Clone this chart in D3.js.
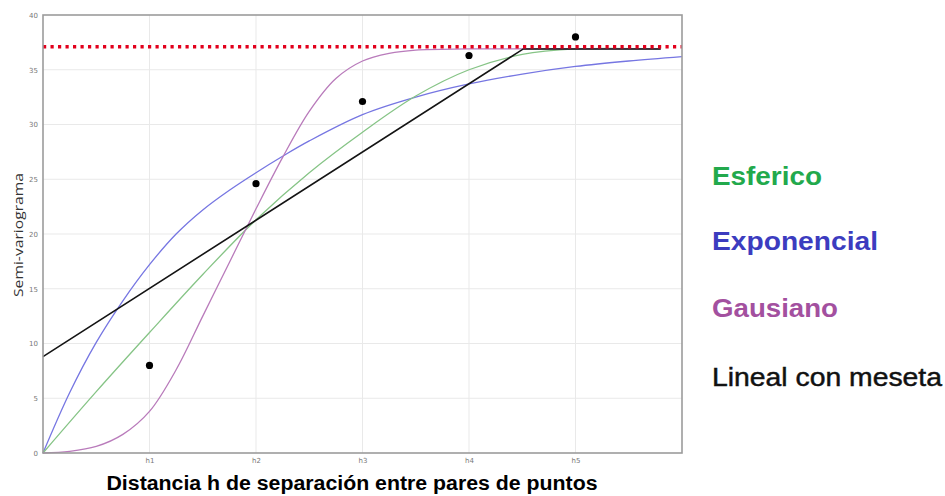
<!DOCTYPE html>
<html>
<head>
<meta charset="utf-8">
<script src="https://cdn.jsdelivr.net/npm/d3@7"></script>
<style>
  html, body { margin: 0; padding: 0; background: #fff; }
  svg { display: block; }
</style>
</head>
<body>
<svg id="chart" width="945" height="496"></svg>
<script>
// Experimental semivariogram points (lag classes h1..h5)
const lagTicks = [1, 2, 3, 4, 5];
const lagLabels = ["h1", "h2", "h3", "h4", "h5"];
const observed = [8.0, 24.6, 32.1, 36.3, 38.0];

// Sill of the fitted models
const sill = [37.1, 37.1];
const sillRange = [0, 6];

// Spherical model
const sphH = [0, 0.5, 1, 1.5, 2, 2.5, 3, 3.5, 4, 4.5, 5, 5.8];
const sphG = [0, 5.6, 11.0, 16.3, 21.3, 25.6, 29.3, 32.6, 35.0, 36.4, 36.9, 36.9];

// Exponential model
const expH = [0, 0.25, 0.5, 0.75, 1, 1.25, 1.5, 1.75, 2, 2.25, 2.5, 3, 3.5, 4, 4.5, 5, 5.5, 6];
const expG = [0, 5.5, 10.1, 13.9, 17.2, 20.0, 22.2, 24.0, 25.6, 27.1, 28.5, 30.9, 32.5, 33.7, 34.6, 35.3, 35.8, 36.2];

// Gaussian model
const gauH = [0, 0.25, 0.5, 0.75, 1, 1.25, 1.5, 1.75, 2, 2.25, 2.5, 2.75, 3, 3.25, 3.5, 4, 5.8];
const gauG = [0, 0.15, 0.6, 1.7, 3.8, 7.6, 12.5, 17.4, 22.3, 27.0, 31.2, 34.2, 35.8, 36.5, 36.8, 36.9, 36.9];

// Linear model with sill
const linH = [0, 4.51, 5.8];
const linG = [8.8, 36.9, 36.9];

const yTicks = [0, 5, 10, 15, 20, 25, 30, 35, 40];

const legendNames = ["Esferico", "Exponencial", "Gausiano", "Lineal con meseta"];
const legendColors = ["#22a94c", "#3c3cbf", "#a3509f", "#111111"];

const svg = d3.select("#chart");
const plot = { left: 43, right: 682, top: 15, bottom: 453 };

const x = d3.scaleLinear().domain([0, 6]).range([plot.left, plot.right]);
const y = d3.scaleLinear().domain([0, 40]).range([plot.bottom, plot.top]);

// Grid
const grid = svg.append("g");
grid.selectAll("line.hy").data(yTicks.slice(1, -1)).join("line")
  .attr("x1", plot.left).attr("x2", plot.right)
  .attr("y1", d => y(d)).attr("y2", d => y(d))
  .attr("stroke", "#e9e9e9").attr("stroke-width", 1);
grid.selectAll("line.vx").data(lagTicks).join("line")
  .attr("y1", plot.top).attr("y2", plot.bottom)
  .attr("x1", d => x(d)).attr("x2", d => x(d))
  .attr("stroke", "#e9e9e9").attr("stroke-width", 1);

// Axes (labels only; frame drawn separately)
const yAxis = d3.axisLeft(y).tickValues(yTicks).tickSize(0).tickPadding(5);
svg.append("g").attr("transform", `translate(${plot.left},0)`).call(yAxis)
  .call(g => g.select(".domain").remove())
  .call(g => g.selectAll("text").attr("fill", "#777").style("font-size", "7px")
    .style("font-family", "DejaVu Sans, sans-serif"));

const xAxis = d3.axisBottom(x).tickValues(lagTicks)
  .tickFormat((d, i) => lagLabels[i]).tickSize(0).tickPadding(5);
svg.append("g").attr("transform", `translate(0,${plot.bottom})`).call(xAxis)
  .call(g => g.select(".domain").remove())
  .call(g => g.selectAll("text").attr("fill", "#777").style("font-size", "7px")
    .style("font-family", "DejaVu Sans, sans-serif"));

// Model curves
const line = d3.line().x(d => x(d[0])).y(d => y(d[1]));
const zipPts = (hs, gs) => hs.map((h, i) => [h, gs[i]]);
const smooth = d3.curveCatmullRom.alpha(0.5);

const curves = [
  { pts: zipPts(expH, expG), color: "#7676e2", w: 1.3, curve: smooth },
  { pts: zipPts(sphH, sphG), color: "#86c486", w: 1.3, curve: smooth },
  { pts: zipPts(gauH, gauG), color: "#b97bbb", w: 1.3, curve: smooth },
  { pts: zipPts(linH, linG), color: "#141414", w: 1.6, curve: d3.curveLinear }
];
svg.append("g").selectAll("path").data(curves).join("path")
  .attr("d", c => line.curve(c.curve)(c.pts))
  .attr("fill", "none")
  .attr("stroke", c => c.color)
  .attr("stroke-width", c => c.w);

// Sill line
svg.append("line")
  .attr("x1", x(sillRange[0])).attr("x2", x(sillRange[1]))
  .attr("y1", y(sill[0])).attr("y2", y(sill[1]))
  .attr("stroke", "#e2001c").attr("stroke-width", 3.4)
  .attr("stroke-dasharray", "3.2,4.3");

// Observed points
svg.append("g").selectAll("circle").data(observed).join("circle")
  .attr("cx", (d, i) => x(lagTicks[i]))
  .attr("cy", d => y(d))
  .attr("r", 3.6)
  .attr("fill", "#000");

// Frame
svg.append("rect")
  .attr("x", plot.left).attr("y", plot.top)
  .attr("width", plot.right - plot.left).attr("height", plot.bottom - plot.top)
  .attr("fill", "none").attr("stroke", "#9c9c9c").attr("stroke-width", 1.6);

// Axis titles
svg.append("text")
  .attr("transform", "translate(23,235) rotate(-90)")
  .attr("text-anchor", "middle")
  .attr("fill", "#333")
  .style("font-family", "Open Sans, sans-serif")
  .style("font-size", "13.5px")
  .attr("textLength", 124).attr("lengthAdjust", "spacingAndGlyphs")
  .text("Semi-variograma");

svg.append("text")
  .attr("x", 352).attr("y", 490)
  .attr("text-anchor", "middle")
  .attr("fill", "#000")
  .style("font-family", "Liberation Sans, Arial, sans-serif")
  .style("font-weight", "bold")
  .style("font-size", "20px")
  .attr("textLength", 491).attr("lengthAdjust", "spacingAndGlyphs")
  .text("Distancia h de separación entre pares de puntos");

// Legend labels
const legendBaselines = [185, 250, 317, 386];
const legendWidths = [110, 166, 126, 230];
svg.append("g").selectAll("text").data(legendNames).join("text")
  .attr("x", 712)
  .attr("y", (d, i) => legendBaselines[i])
  .attr("fill", (d, i) => legendColors[i])
  .attr("stroke", (d, i) => i < 3 ? "none" : legendColors[i])
  .attr("stroke-width", 0.45)
  .style("font-family", "Liberation Sans, Arial, sans-serif")
  .style("font-weight", (d, i) => i < 3 ? "bold" : "normal")
  .style("font-size", "25px")
  .attr("textLength", (d, i) => legendWidths[i])
  .attr("lengthAdjust", "spacingAndGlyphs")
  .text(d => d);
</script>
</body>
</html>
